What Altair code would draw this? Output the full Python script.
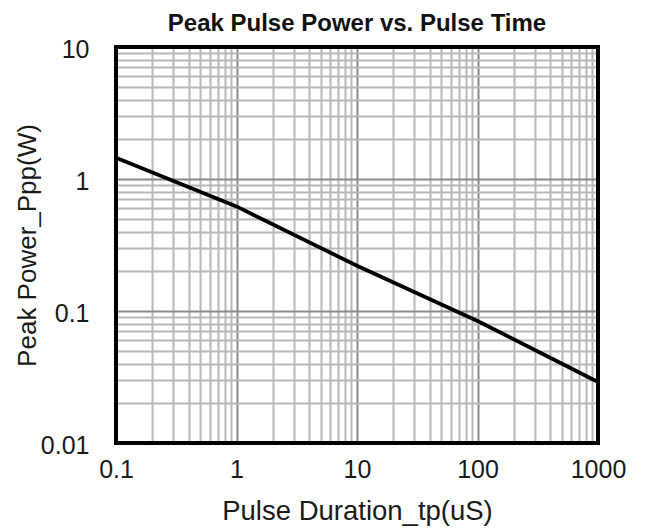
import altair as alt
import pandas as pd

# Curve values
tp_us = [0.1, 1, 10, 100, 1000]
ppp_w = [1.45, 0.62, 0.22, 0.084, 0.029]

# Grid / tick positions (log decades with 1..9 multiples)
x_decades = [0.1, 1, 10, 100]
y_decades = [0.01, 0.1, 1]
multipliers = [1, 2, 3, 4, 5, 6, 7, 8, 9]
x_grid = [d * m for d in x_decades for m in multipliers] + [1000]
y_grid = [d * m for d in y_decades for m in multipliers] + [10]

x_domain = [0.1, 1000]
y_domain = [0.01, 10]

FONT = "Liberation Sans"
IS_DECADE = "abs(log(datum.value)/LN10 - round(log(datum.value)/LN10)) < 0.001"

df = pd.DataFrame({"tp": tp_us, "ppp": ppp_w})


def make_axis(values, title, title_size, title_pad, label_pad, label_offset):
    return alt.Axis(
        values=values,
        title=title,
        labelExpr=f"{IS_DECADE} ? format(datum.value, '~g') : ''",
        labelOverlap=False,
        labelFlush=False,
        labelFont=FONT,
        labelFontSize=25,
        labelColor="#1a1a1a",
        labelPadding=label_pad,
        labelOffset=label_offset,
        titleFont=FONT,
        titleFontSize=title_size,
        titleFontWeight="normal",
        titleColor="#1a1a1a",
        titlePadding=title_pad,
        ticks=False,
        domain=False,
        grid=True,
        gridWidth=2,
        gridColor={"condition": {"test": IS_DECADE, "value": "#8a8a8a"}, "value": "#b8b8b8"},
    )


x_enc = alt.X(
    "tp:Q",
    scale=alt.Scale(type="log", domain=x_domain, nice=False),
    axis=make_axis(x_grid, "Pulse Duration_tp(uS)", 27.5, 15, 14, 0),
)
y_enc = alt.Y(
    "ppp:Q",
    scale=alt.Scale(type="log", domain=y_domain, nice=False),
    axis=make_axis(y_grid, "Peak Power_Ppp(W)", 26, 0, 27, 2),
)

line = alt.Chart(df).mark_line(color="black", strokeWidth=3.8).encode(x=x_enc, y=y_enc)

frame = (
    alt.Chart(df)
    .mark_rect(filled=False, stroke="black", strokeWidth=4)
    .encode(
        x=alt.datum(x_domain[0]),
        x2=alt.datum(x_domain[1]),
        y=alt.datum(y_domain[0]),
        y2=alt.datum(y_domain[1]),
    )
)

chart = (
    alt.layer(line, frame)
    .properties(
        width=482,
        height=396,
        title=alt.TitleParams(
            "Peak Pulse Power vs. Pulse Time",
            font=FONT,
            fontSize=24,
            fontWeight="bold",
            color="#111111",
            anchor="middle",
            frame="group",
            offset=1,
        ),
        autosize=alt.AutoSizeParams(type="none"),
        padding={"left": 108, "top": 39, "right": 41, "bottom": 88},
        background="white",
    )
    .configure_view(stroke=None)
)

chart.save("out.html", embed_options={"renderer": "svg", "actions": False})
